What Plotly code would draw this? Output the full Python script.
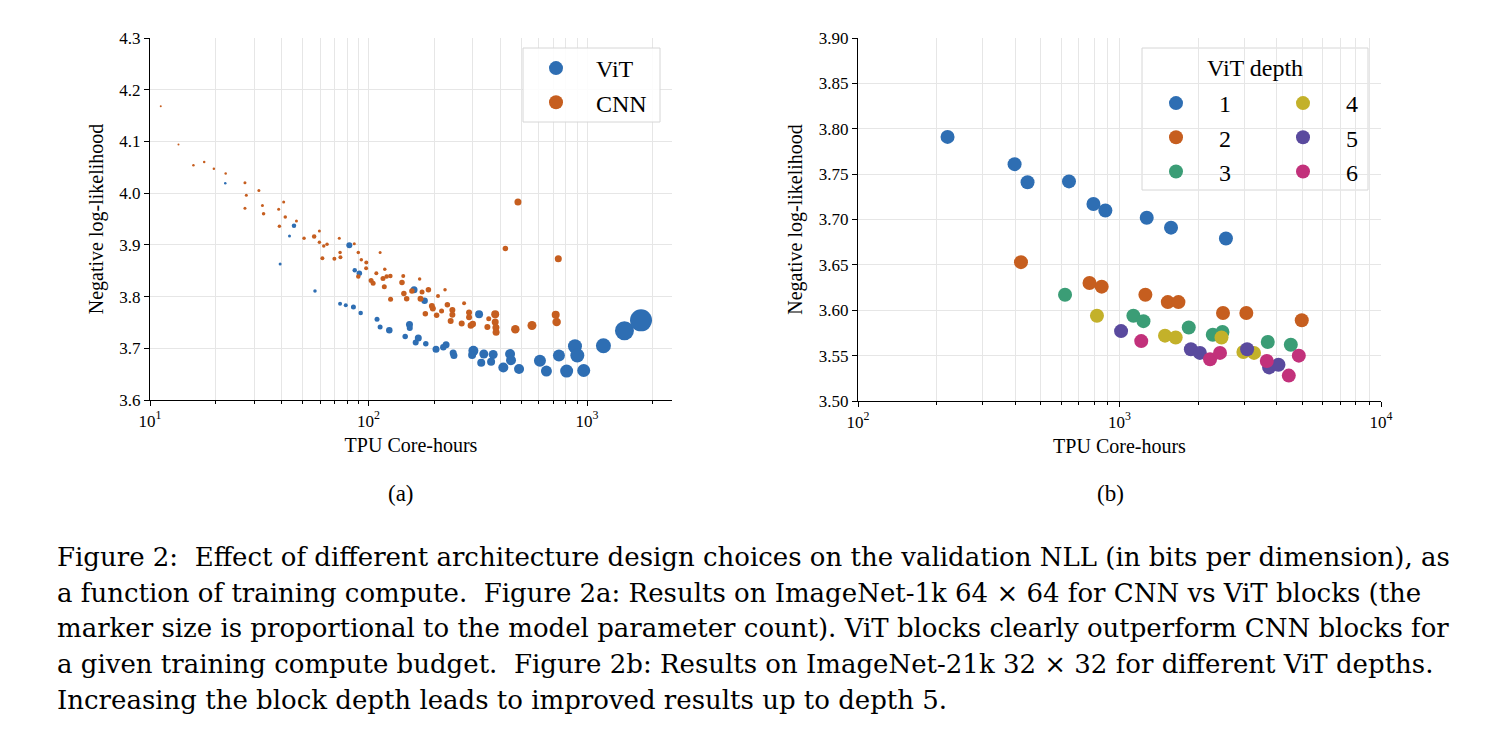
import plotly.graph_objects as go

W, H = 1512, 750
SERIF = "Liberation Serif, Times New Roman, serif"
CAPTION_FONT = "DejaVu Serif, serif"

# ---------------- Figure 2a data (TPU core-hours, NLL, marker diameter) ----------------
vit_x = [22.1, 45.6, 43.5, 39.4, 56.9, 81.7, 86.5, 90.8, 74.1, 78.7, 85.3, 92.1, 109.4, 113, 124.5,
         161.6, 180.6, 154, 154.5, 147.2, 169, 164.4, 182.9, 203.7, 226.5, 220, 244, 246, 302, 298,
         320.6, 337, 328, 372, 364, 444.6, 449, 414, 488.6, 609, 652, 744, 881, 903, 807, 966,
         1189, 1484, 1767]
vit_y = [4.019, 3.937, 3.917, 3.863, 3.811, 3.899, 3.851, 3.845, 3.786, 3.783, 3.780, 3.768, 3.756,
         3.741, 3.735, 3.813, 3.792, 3.746, 3.739, 3.723, 3.720, 3.711, 3.709, 3.698, 3.707, 3.702,
         3.691, 3.686, 3.695, 3.687, 3.766, 3.689, 3.672, 3.688, 3.674, 3.689, 3.677, 3.663, 3.660,
         3.676, 3.656, 3.686, 3.704, 3.686, 3.656, 3.657, 3.705, 3.734, 3.754]
vit_s = [2.5, 4.5, 3, 3, 3.5, 6, 4.5, 5.5, 4, 4, 5, 4.5, 5, 5, 6.5,
         7, 6.5, 7, 6, 5.5, 7, 6, 5.5, 7, 7, 6.5, 7, 7, 10, 8,
         8, 9, 8, 9, 8, 10, 10, 10, 10, 12, 11, 12, 14, 14, 13, 13,
         15, 19, 22]

cnn_x = [11.2, 13.5, 15.8, 17.7, 19.6, 22.2, 27.2, 31.5, 27.6, 27.2, 32.7, 33.1, 40.9, 38.8, 41.6,
         39.1, 46.8, 50.7, 56.4, 59.6, 59.6, 62.4, 64.6, 61.5, 69.8, 73.5, 74.1, 74.4, 86.1, 89.8,
         92.7, 97.7, 97.5, 89.8, 113, 108.6, 118.7, 116.5, 121.1, 125.9, 102.8, 105.0, 118.1, 126.2,
         144.2, 142.3, 171.4, 145.2, 149.5, 158, 175.8, 188, 173, 195, 182, 205, 224, 208, 197, 216,
         229.6, 242, 242, 237.7, 267, 273.8, 288.6, 288.6, 294, 300, 355, 350, 380, 380, 383, 383.7,
         469.8, 560, 719, 726, 483, 423, 739]
cnn_y = [4.168, 4.094, 4.054, 4.060, 4.047, 4.038, 4.020, 4.005, 3.996, 3.971, 3.976, 3.960, 3.983,
         3.969, 3.954, 3.936, 3.946, 3.913, 3.916, 3.927, 3.905, 3.898, 3.901, 3.874, 3.873, 3.913,
         3.885, 3.876, 3.902, 3.885, 3.871, 3.866, 3.855, 3.839, 3.885, 3.845, 3.853, 3.835, 3.839,
         3.840, 3.831, 3.826, 3.819, 3.795, 3.840, 3.827, 3.834, 3.806, 3.796, 3.811, 3.809, 3.813,
         3.796, 3.782, 3.767, 3.764, 3.813, 3.801, 3.777, 3.772, 3.784, 3.774, 3.765, 3.753, 3.748,
         3.787, 3.769, 3.760, 3.744, 3.747, 3.757, 3.741, 3.766, 3.751, 3.740, 3.731, 3.737, 3.744,
         3.765, 3.751, 3.983, 3.893, 3.873]
cnn_s = [2, 2, 2.5, 2.5, 2.5, 2.5, 3, 3, 3, 3, 3, 3.5, 3, 3, 3.5,
         3.5, 3, 3.5, 4.5, 3, 3.5, 3.5, 3.5, 4, 4, 3, 3.5, 4, 3, 3.5,
         3.5, 4, 4, 4.5, 3, 4, 3.5, 5, 4.5, 4.5, 5, 5, 5, 5,
         4, 5.5, 3.5, 5.5, 5.5, 5.5, 5, 5.5, 6, 6, 5.5, 5.5, 3.5, 4, 6, 5,
         5.5, 6, 6, 6, 6, 4, 6, 6, 6.5, 6.5, 5, 6, 8, 7, 7, 7,
         8.5, 9, 8, 8.5, 7, 5.5, 7]

# ---------------- Figure 2b data (TPU core-hours, NLL) per ViT depth ----------------
depth_names = ["1", "2", "3", "4", "5", "6"]
depth_x = [
    [220, 397, 445, 641, 795, 883, 1271, 1574, 2553],
    [420, 768, 855, 1256, 1530, 1680, 2488, 3055, 4977],
    [619, 1130, 1235, 1840, 2274, 2476, 3690, 4520],
    [820, 1493, 1640, 2455, 2977, 3269],
    [1014, 1875, 2030, 3076, 3734, 4054],
    [1211, 2220, 2423, 3658, 4440, 4850],
]
depth_y = [
    [3.791, 3.761, 3.741, 3.742, 3.717, 3.710, 3.702, 3.691, 3.679],
    [3.653, 3.630, 3.626, 3.617, 3.609, 3.609, 3.597, 3.597, 3.589],
    [3.617, 3.594, 3.588, 3.581, 3.573, 3.576, 3.565, 3.562],
    [3.594, 3.572, 3.570, 3.570, 3.554, 3.553],
    [3.577, 3.557, 3.553, 3.557, 3.537, 3.540],
    [3.566, 3.546, 3.553, 3.544, 3.528, 3.550],
]
depth_colors = ["#2e6eb3", "#c65e1f", "#3b9d76", "#c3b12a", "#5a4a9e", "#c2317b"]

caption_lines = [
    "Figure 2:  Effect of different architecture design choices on the validation NLL (in bits per dimension), as",
    "a function of training compute.  Figure 2a: Results on ImageNet-1k 64 × 64 for CNN vs ViT blocks (the",
    "marker size is proportional to the model parameter count). ViT blocks clearly outperform CNN blocks for",
    "a given training compute budget.  Figure 2b: Results on ImageNet-21k 32 × 32 for different ViT depths.",
    "Increasing the block depth leads to improved results up to depth 5.",
]

BLUE, ORANGE = depth_colors[0], depth_colors[1]


def px_x(p):
    return p / W


def px_y(p):
    return 1 - p / H


fig = go.Figure()
fig.add_trace(go.Scatter(x=vit_x, y=vit_y, mode="markers", name="ViT", showlegend=False,
                         marker=dict(size=vit_s, color=BLUE, opacity=1, line=dict(width=0)),
                         xaxis="x", yaxis="y"))
fig.add_trace(go.Scatter(x=cnn_x, y=cnn_y, mode="markers", name="CNN", showlegend=False,
                         marker=dict(size=cnn_s, color=ORANGE, opacity=1, line=dict(width=0)),
                         xaxis="x", yaxis="y"))
# legend entries for panel (a)
for nm, c in (("ViT", BLUE), ("CNN", ORANGE)):
    fig.add_trace(go.Scatter(x=[None], y=[None], mode="markers", name=nm,
                             marker=dict(size=14, color=c, opacity=1, line=dict(width=0)),
                             xaxis="x", yaxis="y", legend="legend"))

for i, (nm, xs, ys, c) in enumerate(zip(depth_names, depth_x, depth_y, depth_colors)):
    fig.add_trace(go.Scatter(x=xs, y=ys, mode="markers", name=nm,
                             marker=dict(size=14, color=c, opacity=1, line=dict(width=0)),
                             xaxis="x2", yaxis="y2", legendgroup=nm,
                             legend="legend2" if i < 3 else "legend3"))

GRID = "#e6e6e6"
BOX = "#d6d6d6"
minor_a = [v * 10 ** e for e in (1, 2, 3) for v in range(2, 10)]
minor_b = [v * 10 ** e for e in (2, 3) for v in range(2, 10)]

common_x = dict(type="log", ticks="outside", ticklen=5, tickwidth=1, tickcolor="black",
                showline=True, linecolor="black", linewidth=1.2, showgrid=True,
                gridcolor=GRID, gridwidth=1, zeroline=False,
                tickfont=dict(family=SERIF, size=17, color="black"),
                title=dict(text="TPU Core-hours", font=dict(family=SERIF, size=20, color="black"),
                           standoff=8))
common_y = dict(ticks="outside", ticklen=5, tickwidth=1, tickcolor="black",
                showline=True, linecolor="black", linewidth=1.2, showgrid=True,
                gridcolor=GRID, gridwidth=1, zeroline=False,
                tickfont=dict(family=SERIF, size=17, color="black"),
                title=dict(text="Negative log-likelihood",
                           font=dict(family=SERIF, size=20, color="black"), standoff=10))

legend_common = dict(xanchor="left", yanchor="top", bgcolor="rgba(0,0,0,0)", borderwidth=0,
                     tracegroupgap=0)

fig.update_layout(
    width=W, height=H,
    margin=dict(l=0, r=0, t=0, b=0, pad=0, autoexpand=False),
    paper_bgcolor="white", plot_bgcolor="white",
    font=dict(family=SERIF, color="black"),
    xaxis=dict(common_x, domain=[px_x(150), px_x(672)], range=[1, 3.389], anchor="y",
               tickvals=[10, 100, 1000],
               ticktext=["10<sup>1</sup>", "10<sup>2</sup>", "10<sup>3</sup>"],
               minor=dict(tickvals=minor_a, ticks="outside", ticklen=3, tickcolor="black",
                          showgrid=True, gridcolor=GRID, gridwidth=1)),
    yaxis=dict(common_y, domain=[px_y(400), px_y(38)], range=[3.6, 4.3], dtick=0.1,
               tick0=3.6, tickformat=".1f", anchor="x"),
    xaxis2=dict(common_x, domain=[px_x(858), px_x(1381)], range=[2, 4], anchor="y2",
                tickvals=[100, 1000, 10000],
                ticktext=["10<sup>2</sup>", "10<sup>3</sup>", "10<sup>4</sup>"],
                minor=dict(tickvals=minor_b, ticks="outside", ticklen=3, tickcolor="black",
                           showgrid=True, gridcolor=GRID, gridwidth=1)),
    yaxis2=dict(common_y, domain=[px_y(401), px_y(38)], range=[3.5, 3.9], dtick=0.05,
                tick0=3.5, tickformat=".2f", anchor="x2"),
    legend=dict(legend_common, x=px_x(516), y=px_y(46),
                font=dict(family=SERIF, size=24, color="black"), itemwidth=70),
    legend2=dict(legend_common, x=px_x(1133), y=px_y(81),
                 font=dict(family=SERIF, size=24, color="black"), itemwidth=76),
    legend3=dict(legend_common, x=px_x(1260), y=px_y(81),
                 font=dict(family=SERIF, size=24, color="black"), itemwidth=76),
    shapes=[
        dict(type="rect", xref="paper", yref="paper",
             x0=px_x(523), x1=px_x(660), y0=px_y(122), y1=px_y(48),
             line=dict(color=BOX, width=1), fillcolor="rgba(255,255,255,0.85)", layer="above"),
        dict(type="rect", xref="paper", yref="paper",
             x0=px_x(1142), x1=px_x(1368), y0=px_y(190), y1=px_y(48),
             line=dict(color=BOX, width=1), fillcolor="rgba(255,255,255,0.85)", layer="below"),
    ],
)

annotations = [
    dict(text="ViT depth", x=px_x(1255), y=px_y(68), xref="paper", yref="paper",
         showarrow=False, font=dict(family=SERIF, size=24, color="black"),
         xanchor="center", yanchor="middle"),
    dict(text="(a)", x=px_x(401), y=px_y(493), xref="paper", yref="paper", showarrow=False,
         font=dict(family=SERIF, size=23, color="black"), xanchor="center", yanchor="middle"),
    dict(text="(b)", x=px_x(1110), y=px_y(493), xref="paper", yref="paper", showarrow=False,
         font=dict(family=SERIF, size=23, color="black"), xanchor="center", yanchor="middle"),
]
for k, line in enumerate(caption_lines):
    annotations.append(dict(text=line, x=px_x(55), y=px_y(557 + 35.7 * k), xref="paper",
                            yref="paper", showarrow=False, xanchor="left", yanchor="middle",
                            font=dict(family=CAPTION_FONT, size=26, color="black")))
fig.update_layout(annotations=annotations)

fig.write_html("out.html")
